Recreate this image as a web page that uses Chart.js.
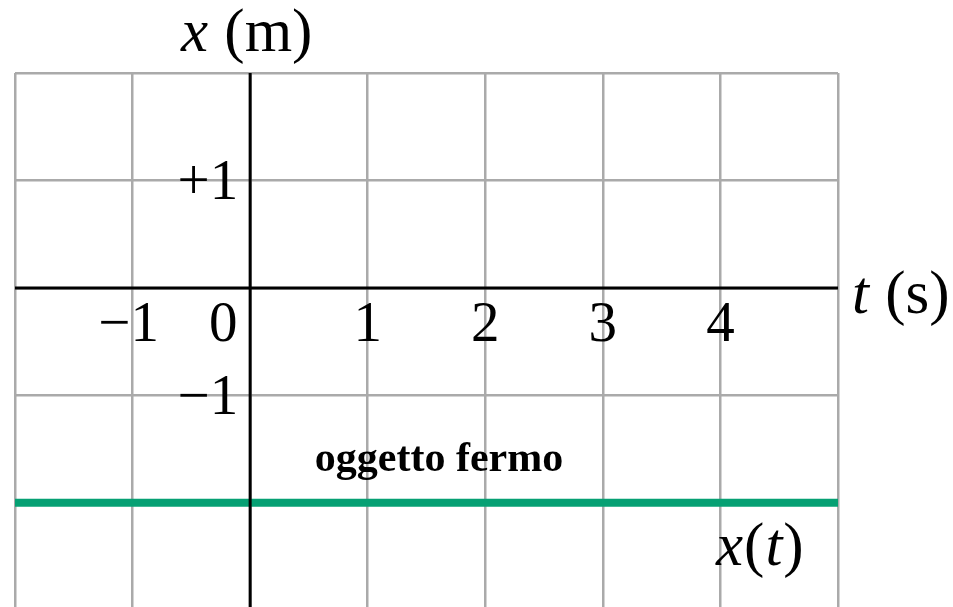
<!DOCTYPE html>
<html>
<head>
<meta charset="utf-8">
<script src="https://cdn.jsdelivr.net/npm/chart.js"></script>
<style>
  html, body { margin: 0; padding: 0; background: #fff; }
  #wrap { width: 953px; height: 607px; }
</style>
</head>
<body>
<div id="wrap"><canvas id="graph" width="953" height="607"></canvas></div>
<script>
// position of a resting object: x stays at -2 m for every t
const times = [-2, 5];
const positions = [-2, -2];

const tTicks = [-1, 0, 1, 2, 3, 4];
const tTickLabels = ["\u22121", "0", "1", "2", "3", "4"];
const xTicks = [1, -1];
const xTickLabels = ["+1", "\u22121"];
const gridT = [-2, -1, 0, 1, 2, 3, 4, 5];
const gridX = [2, 1, 0, -1, -2, -3];

const serif = '"Liberation Serif", "Times New Roman", serif';
const SIZE = 57;
const TITLE_SIZE = 61;

// draws pieces of mixed upright/italic text one after another
function drawRuns(ctx, runs, x, y) {
  runs.forEach(([txt, italic]) => {
    ctx.font = (italic ? "italic " : "") + TITLE_SIZE + "px " + serif;
    ctx.fillText(txt, x, y);
    x += ctx.measureText(txt).width + 1;
  });
}

const axesAndText = {
  id: "axesAndText",
  afterDraw(chart) {
    const { ctx, chartArea, scales } = chart;
    const sx = scales.x, sy = scales.y;
    const x0 = sx.getPixelForValue(0);
    const y0 = sy.getPixelForValue(0);

    ctx.save();
    ctx.strokeStyle = "#000";
    ctx.lineWidth = 3;
    ctx.beginPath();
    ctx.moveTo(chartArea.left, y0);
    ctx.lineTo(chartArea.right, y0);
    ctx.moveTo(x0, chartArea.top);
    ctx.lineTo(x0, chart.height);
    ctx.stroke();

    ctx.fillStyle = "#000";
    ctx.textBaseline = "middle";

    // t tick labels under the t axis
    ctx.font = SIZE + "px " + serif;
    ctx.textAlign = "center";
    tTicks.forEach((v, i) => {
      let px = sx.getPixelForValue(v);
      if (v === 0) px -= 27;
      if (v === -1) px -= 4;
      ctx.fillText(tTickLabels[i], px, y0 + 38);
    });

    // x tick labels left of the x axis
    ctx.textAlign = "right";
    xTicks.forEach((v, i) => {
      ctx.fillText(xTickLabels[i], x0 - 12, sy.getPixelForValue(v) + 4);
    });

    // axis titles and curve label
    ctx.textAlign = "left";
    drawRuns(ctx, [["x", true], [" (m)", false]], 181, 35);
    drawRuns(ctx, [["t", true], [" (s)", false]], 852, y0 + 9);
    drawRuns(ctx, [["x", true], ["(", false], ["t", true], [")", false]], 716, 549);

    ctx.font = "bold 42px " + serif;
    ctx.textAlign = "center";
    ctx.textBaseline = "alphabetic";
    ctx.fillText("oggetto fermo", 439, 471);
    ctx.restore();
  }
};

const gridOpts = { color: "#aaaaaa", lineWidth: 2.5, drawTicks: false };

new Chart(document.getElementById("graph"), {
  type: "line",
  data: {
    datasets: [{
      data: times.map((t, i) => ({ x: t, y: positions[i] })),
      borderColor: "rgb(6, 160, 115)",
      borderWidth: 8,
      pointRadius: 0,
      tension: 0
    }]
  },
  options: {
    responsive: false,
    animation: false,
    events: [],
    layout: { padding: { left: 15, right: 115, top: 73, bottom: 0 } },
    plugins: { legend: { display: false }, tooltip: { enabled: false } },
    scales: {
      x: {
        type: "linear",
        min: -2,
        max: 5,
        z: 1,
        afterBuildTicks: s => { s.ticks = gridT.map(v => ({ value: v })); },
        ticks: { display: false },
        grid: gridOpts,
        border: { display: false }
      },
      y: {
        type: "linear",
        min: -2.97,
        max: 2,
        z: 1,
        afterBuildTicks: s => { s.ticks = gridX.map(v => ({ value: v })); },
        ticks: { display: false },
        grid: gridOpts,
        border: { display: false }
      }
    }
  },
  plugins: [axesAndText]
});
</script>
</body>
</html>
